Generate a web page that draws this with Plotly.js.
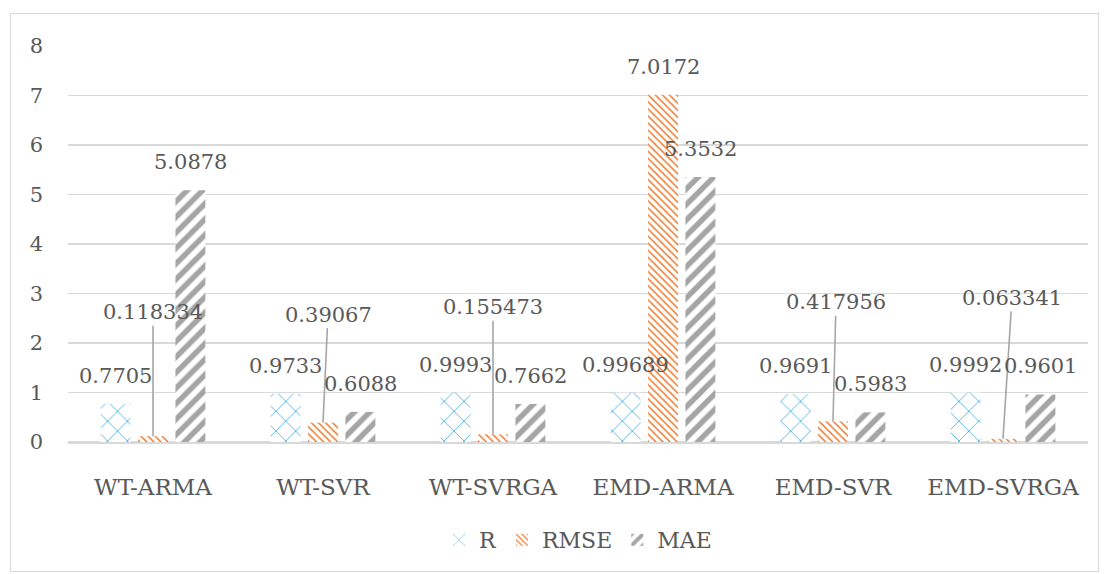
<!DOCTYPE html>
<html>
<head>
<meta charset="utf-8">
<script src="https://cdn.plot.ly/plotly-3.0.1.min.js"></script>
<style>
  html, body { margin: 0; padding: 0; background: #fff; }
  #wrap { position: relative; width: 1105px; height: 574px; }
  #chart { position: absolute; left: 0; top: 0; width: 1105px; height: 574px; }
  #frame { position: absolute; left: 10px; top: 13px; width: 1087px; height: 557px;
           border: 1.5px solid #d9d9d9; pointer-events: none; }
</style>
</head>
<body>
<div id="wrap">
  <div id="chart"></div>
  <div id="frame"></div>
</div>
<script>
// ---- data ----
const categories = ["WT-ARMA", "WT-SVR", "WT-SVRGA", "EMD-ARMA", "EMD-SVR", "EMD-SVRGA"];
const seriesNames = ["R", "RMSE", "MAE"];
const rValues    = [0.7705, 0.9733, 0.9993, 0.99689, 0.9691, 0.9992];
const rmseValues = [0.118334, 0.39067, 0.155473, 7.0172, 0.417956, 0.063341];
const maeValues  = [5.0878, 0.6088, 0.7662, 5.3532, 0.5983, 0.9601];
const rLabels    = ["0.7705", "0.9733", "0.9993", "0.99689", "0.9691", "0.9992"];
const rmseLabels = ["0.118334", "0.39067", "0.155473", "7.0172", "0.417956", "0.063341"];
const maeLabels  = ["5.0878", "0.6088", "0.7662", "5.3532", "0.5983", "0.9601"];
const yTicks = [0, 1, 2, 3, 4, 5, 6, 7, 8];

// ---- styling / layout (not data) ----
const FONT = "DejaVu Serif";
const TXT = "#595959";
const LBL = 21;
const colors = ["#1f9fe0", "#ed7d31", "#a5a5a5"];
const patterns = [
  {shape: "x", size: 14, solidity: 0.1},
  {shape: "\\", size: 5, solidity: 0.3},
  {shape: "/", size: 11, solidity: 0.5}
];
const BARGAP = 0.34, GROUPGAP = 0.2;
const slot = (1 - BARGAP) / 3;
// leader-line label offsets (pixels) for the RMSE labels; null = normal label
const rmseLeader = [[0, -124], [5, -108], [0, -127], null, [3, -119], [9, -141]];

const allValues = [rValues, rmseValues, maeValues];
const allLabels = [rLabels, rmseLabels, maeLabels];

const traces = seriesNames.map((name, k) => ({
  type: "bar",
  name: name,
  x: categories,
  y: allValues[k],
  marker: {
    color: colors[k],
    line: {width: 0},
    pattern: Object.assign({fgcolor: colors[k], bgcolor: "#ffffff", fillmode: "replace"}, patterns[k])
  },
  hoverinfo: "skip"
}));

const annotations = [];
allValues.forEach((vals, k) => {
  vals.forEach((v, i) => {
    const xpos = i + (k - 1) * slot;
    const lead = (k === 1) ? rmseLeader[i] : null;
    if (lead) {
      annotations.push({
        x: xpos, y: v, xref: "x", yref: "y",
        text: allLabels[k][i],
        showarrow: true, arrowhead: 0, arrowwidth: 1.6, arrowcolor: "#a6a6a6",
        ax: lead[0], ay: lead[1],
        font: {family: FONT, size: LBL, color: TXT}
      });
    } else {
      annotations.push({
        x: xpos, y: v, xref: "x", yref: "y",
        text: allLabels[k][i],
        showarrow: false, yanchor: "middle", xanchor: "center", yshift: 28,
        font: {family: FONT, size: LBL, color: TXT}
      });
    }
  });
});

const layout = {
  width: 1105, height: 574,
  margin: {l: 68, r: 17, t: 45, b: 132},
  paper_bgcolor: "#ffffff",
  plot_bgcolor: "#ffffff",
  barmode: "group",
  bargap: BARGAP,
  bargroupgap: GROUPGAP,
  font: {family: FONT, size: 22, color: TXT},
  showlegend: true,
  legend: {
    orientation: "h", x: 0.5, xanchor: "center", y: -0.247, yanchor: "middle",
    font: {family: FONT, size: 22, color: TXT},
    itemwidth: 30, traceorder: "normal"
  },
  xaxis: {
    type: "category",
    showgrid: false,
    showline: true, linecolor: "#d9d9d9", linewidth: 1.5,
    ticks: "", ticklabelstandoff: 24,
    tickfont: {family: FONT, size: 23, color: TXT},
    fixedrange: true
  },
  yaxis: {
    range: [0, 8.02],
    tickvals: yTicks,
    ticktext: yTicks.map(String),
    showgrid: true, gridcolor: "#d9d9d9", gridwidth: 1.4,
    zeroline: true, zerolinecolor: "#d9d9d9", zerolinewidth: 1.5,
    showline: false, ticks: "", ticklabelstandoff: 24,
    tickfont: {family: FONT, size: 21, color: TXT},
    fixedrange: true
  },
  annotations: annotations
};

Plotly.newPlot("chart", traces, layout, {displayModeBar: false, staticPlot: true});
</script>
</body>
</html>
